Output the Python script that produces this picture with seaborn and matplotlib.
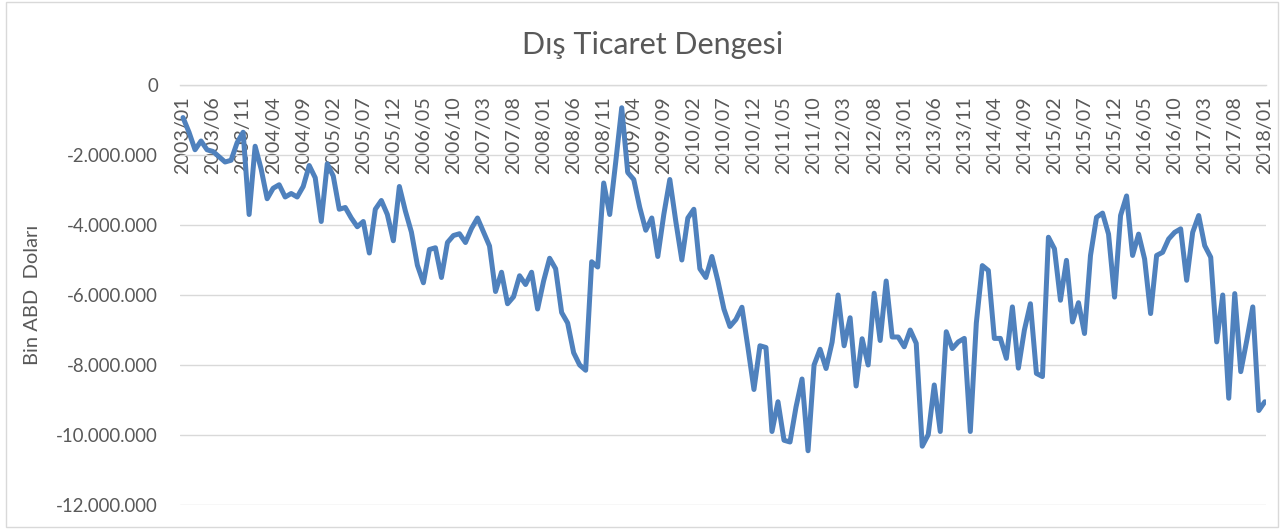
import matplotlib
matplotlib.use("Agg")
import matplotlib.pyplot as plt
from matplotlib.patches import Rectangle
from matplotlib.ticker import FuncFormatter
import seaborn as sns
import pandas as pd

### aylik dis ticaret dengesi (bin ABD dolari) ###

y2003 = [-930000, -1350000, -1850000, -1600000, -1850000, -1900000,
         -2050000, -2200000, -2150000, -1650000, -1350000, -3700000]
y2004 = [-1750000, -2400000, -3250000, -2950000, -2850000, -3200000,
         -3100000, -3200000, -2900000, -2300000, -2650000, -3900000]
y2005 = [-2250000, -2600000, -3550000, -3500000, -3800000, -4050000,
         -3900000, -4800000, -3550000, -3300000, -3700000, -4450000]
y2006 = [-2900000, -3600000, -4200000, -5150000, -5650000, -4700000,
         -4650000, -5500000, -4500000, -4300000, -4250000, -4500000]
y2007 = [-4100000, -3800000, -4200000, -4600000, -5900000, -5350000,
         -6250000, -6050000, -5450000, -5700000, -5350000, -6400000]
y2008 = [-5600000, -4950000, -5250000, -6500000, -6800000, -7650000,
         -8000000, -8150000, -5050000, -5200000, -2800000, -3700000]
y2009 = [-2200000, -650000, -2500000, -2700000, -3500000, -4150000,
         -3800000, -4900000, -3700000, -2700000, -3900000, -5000000]
y2010 = [-3800000, -3550000, -5250000, -5500000, -4900000, -5600000,
         -6400000, -6900000, -6700000, -6350000, -7500000, -8700000]
y2011 = [-7450000, -7500000, -9900000, -9050000, -10150000, -10200000,
         -9200000, -8400000, -10450000, -8000000, -7550000, -8100000]
y2012 = [-7350000, -6000000, -7450000, -6650000, -8600000, -7250000,
         -8000000, -5950000, -7300000, -5600000, -7200000, -7200000]
y2013 = [-7480000, -7000000, -7380000, -10320000, -9990000, -8570000,
         -9900000, -7050000, -7530000, -7340000, -7240000, -9900000]
y2014 = [-6800000, -5160000, -5300000, -7240000, -7240000, -7810000,
         -6340000, -8090000, -7000000, -6250000, -8240000, -8330000]
y2015 = [-4350000, -4680000, -6150000, -5010000, -6770000, -6220000,
         -7100000, -4870000, -3780000, -3660000, -4260000, -6060000]
y2016 = [-3730000, -3170000, -4870000, -4260000, -4970000, -6530000,
         -4870000, -4780000, -4400000, -4210000, -4110000, -5580000]
y2017 = [-4210000, -3730000, -4590000, -4920000, -7340000, -6000000,
         -8950000, -5960000, -8190000, -7300000, -6340000, -9300000]
y2018 = [-9050000]

denge = (y2003 + y2004 + y2005 + y2006 + y2007 + y2008 + y2009 + y2010
         + y2011 + y2012 + y2013 + y2014 + y2015 + y2016 + y2017 + y2018)
aylar = pd.period_range("2003-01", "2018-01", freq="M").strftime("%Y/%m")

df = pd.DataFrame({"AY": range(len(denge)), "DENGE": denge})

sns.set_theme(style="white")
plt.rcParams["font.family"] = ["Lato", "DejaVu Sans"]
gri = "#595959"

fig = plt.figure(figsize=(12.82, 5.31), dpi=100)
ax = fig.add_axes([180 / 1282, 26 / 531, 1086 / 1282, 420 / 531])

sns.lineplot(data=df, x="AY", y="DENGE", color="#4F81BD", linewidth=3.6, ax=ax)

ax.set_xlim(-0.5, 180.2)
ax.set_ylim(-12000000, 0)
ax.set_yticks(range(-12000000, 1, 2000000))
ax.yaxis.set_major_formatter(FuncFormatter(lambda v, p: f"{v:,.0f}".replace(",", ".")))

ax.set_xticks(df["AY"][::5])
ax.set_xticklabels(aylar[::5])
ax.tick_params(axis="x", top=True, labeltop=True, bottom=False, labelbottom=False,
               length=0, pad=-8, labelrotation=90, labelsize=14.2, colors=gri)
for t in ax.xaxis.get_major_ticks():
    t.label2.set_va("top")
ax.tick_params(axis="y", length=0, pad=16, labelsize=13.4, colors=gri)

ax.grid(axis="y", color="#D9D9D9", linewidth=1)
ax.grid(axis="x", visible=False)
for s in ["left", "right", "bottom"]:
    ax.spines[s].set_visible(False)
ax.spines["top"].set_color("#D9D9D9")
ax.spines["top"].set_linewidth(1)

ax.set_xlabel("")
ax.set_ylabel("Bin ABD  Doları", fontsize=14.5, color=gri)
ax.yaxis.set_label_coords(-0.128, 0.5)

fig.text(0.509, 0.915, "Dış Ticaret Dengesi", ha="center", va="center",
         fontsize=22, color=gri)

fig.patches.append(Rectangle((6 / 1282, 4 / 531), 1272 / 1282, 525 / 531,
                             transform=fig.transFigure, fill=False,
                             edgecolor="#D9D9D9", linewidth=1))

fig.savefig("out.png", dpi=100)
